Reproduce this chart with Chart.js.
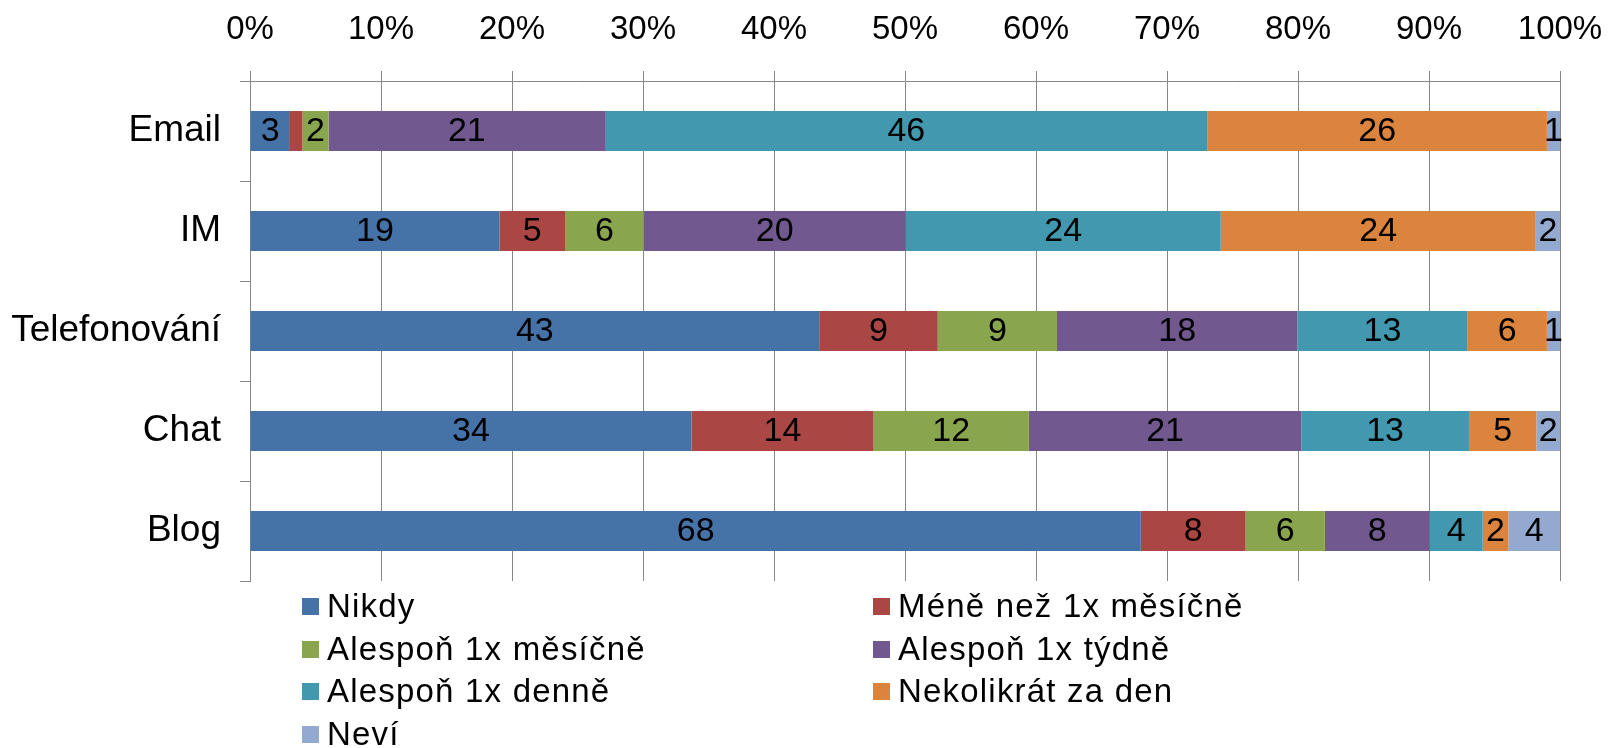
<!DOCTYPE html>
<html>
<head>
<meta charset="utf-8">
<script src="https://cdn.jsdelivr.net/npm/chart.js@4.4.1/dist/chart.umd.min.js"></script>
<style>
  html, body { margin: 0; padding: 0; background: #fff; }
  #wrap { position: relative; width: 1612px; height: 748px; }
  #legend { position: absolute; left: 0; top: 0; width: 1612px; height: 748px; pointer-events: none;
            font-family: "Liberation Sans", Arial, sans-serif; font-size: 33px; letter-spacing: 1.2px; color: #000; }
  .legend-item { position: absolute; display: flex; align-items: center; white-space: nowrap; height: 40px; }
  .legend-box { width: 17px; height: 17px; margin-right: 8px; flex-shrink: 0; }
</style>
</head>
<body>
<div id="wrap">
  <canvas id="chart" width="1612" height="748"></canvas>
  <div id="legend"></div>
</div>
<script>
// categories (top to bottom)
const categories = ['Email', 'IM', 'Telefonování', 'Chat', 'Blog'];

// share of respondents per answer, %
const nikdy      = [3.05, 19.05, 43.45, 33.7, 68.0];
const meneNez    = [0.95, 5.0,   9.05,  13.9, 8.0];
const mesicne    = [2.0,  6.0,   9.1,   11.85, 6.05];
const tydne      = [21.1, 20.0,  18.35, 20.8, 8.0];
const denne      = [46.0, 24.05, 13.0,  12.8, 4.05];
const vicekrat   = [25.9, 24.05, 6.05,  5.15, 1.95];
const nevi       = [1.0,  1.85,  1.0,   1.8,  3.95];

const seriesNames  = ['Nikdy', 'Méně než 1x měsíčně', 'Alespoň 1x měsíčně', 'Alespoň 1x týdně',
                      'Alespoň 1x denně', 'Nekolikrát za den', 'Neví'];
const seriesValues = [nikdy, meneNez, mesicne, tydne, denne, vicekrat, nevi];
const seriesColors = ['#4572A7', '#AA4643', '#89A54E', '#71588F', '#4198AF', '#DB843D', '#93A9CF'];

const xTicks = [0, 10, 20, 30, 40, 50, 60, 70, 80, 90, 100];

const FONT = '"Liberation Sans", Arial, sans-serif';
const GRID = '#878787';

Chart.defaults.font.family = FONT;
Chart.defaults.color = '#000';

// value labels in the middle of each segment
const segLabels = {
  id: 'segLabels',
  afterDatasetsDraw(chart) {
    const { ctx } = chart;
    ctx.save();
    ctx.font = '34px ' + FONT;
    ctx.fillStyle = '#000';
    ctx.textAlign = 'center';
    ctx.textBaseline = 'middle';
    chart.data.datasets.forEach((ds, i) => {
      chart.getDatasetMeta(i).data.forEach((bar, j) => {
        const v = ds.data[j];
        if (v < 1) return;
        ctx.fillText(String(Math.round(v)), (bar.x + bar.base) / 2, bar.y + 1);
      });
    });
    ctx.restore();
  },
};

new Chart(document.getElementById('chart').getContext('2d'), {
  type: 'bar',
  data: {
    labels: categories,
    datasets: seriesValues.map((vals, i) => ({
      label: seriesNames[i], data: vals,
      backgroundColor: seriesColors[i],
      borderWidth: 0,
      categoryPercentage: 1.0, barPercentage: 0.4,
    })),
  },
  options: {
    indexAxis: 'y',
    responsive: false,
    animation: false,
    layout: { padding: { left: 0, right: 52, top: 0, bottom: 167 } },
    scales: {
      x: {
        position: 'top', stacked: true, min: 0, max: 100,
        afterBuildTicks: s => { s.ticks = xTicks.map(v => ({ value: v })); },
        afterFit: s => { s.height = 81; s.paddingLeft = 0; s.paddingRight = 0; },
        ticks: { callback: v => v + '%', font: { size: 33 }, padding: 21, maxRotation: 0, color: '#000' },
        grid: { color: GRID, lineWidth: 1, tickLength: 10 },
        border: { color: GRID, width: 1 },
      },
      y: {
        stacked: true,
        afterFit: s => { s.width = 250; },
        ticks: { font: { size: 37 }, padding: 19, color: '#000' },
        grid: { offset: true, drawOnChartArea: false, color: GRID, tickLength: 10 },
        border: { color: GRID, width: 1 },
      },
    },
    plugins: {
      legend: { display: false },
      tooltip: { enabled: false },
    },
  },
  plugins: [segLabels],
});

// Legend (two columns, as in the source)
const legendPos = [
  [302, 606], [873, 606],
  [302, 649], [873, 649],
  [302, 691], [873, 691],
  [302, 734],
];
document.getElementById('legend').innerHTML = seriesNames.map((n, i) =>
  `<div class="legend-item" style="left:${legendPos[i][0]}px;top:${legendPos[i][1] - 20}px">
     <div class="legend-box" style="background:${seriesColors[i]}"></div><span>${n}</span>
   </div>`).join('');
</script>
</body>
</html>
